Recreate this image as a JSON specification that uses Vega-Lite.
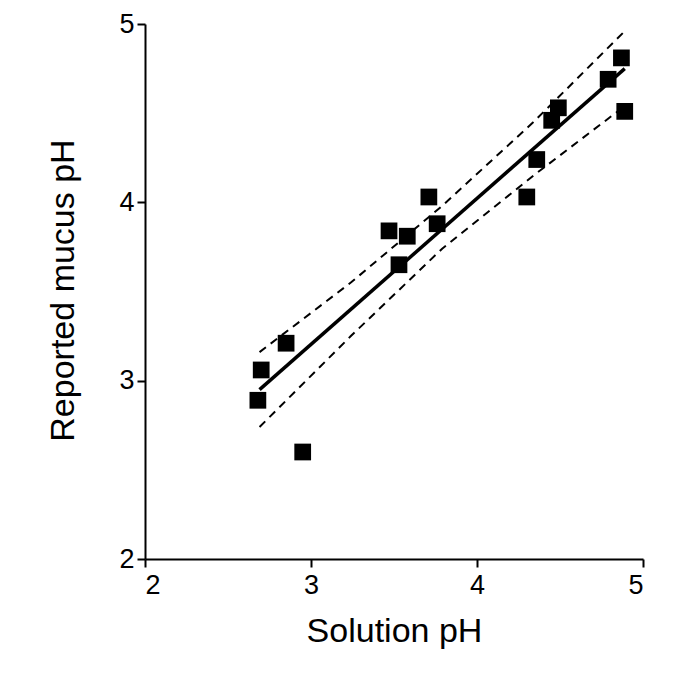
{
  "$schema": "https://vega.github.io/schema/vega-lite/v6.json",
  "autosize": "none",
  "width": 498,
  "height": 535,
  "padding": {"left": 145, "top": 24, "right": 57, "bottom": 116},
  "background": "white",
  "config": {
    "view": {"stroke": null},
    "font": "Liberation Sans",
    "axis": {
      "grid": false,
      "domainColor": "black",
      "domainWidth": 2,
      "tickColor": "black",
      "tickWidth": 2,
      "tickSize": 8,
      "labelColor": "black",
      "titleColor": "black",
      "labelFont": "Liberation Sans",
      "titleFont": "Liberation Sans",
      "labelFontSize": 27,
      "titleFontSize": 34,
      "titleFontWeight": "normal"
    }
  },
  "datasets": {
    "points": [
      {"solution": 2.70, "mucus": 3.06},
      {"solution": 2.68, "mucus": 2.89},
      {"solution": 2.85, "mucus": 3.21},
      {"solution": 2.95, "mucus": 2.60},
      {"solution": 3.47, "mucus": 3.84},
      {"solution": 3.58, "mucus": 3.81},
      {"solution": 3.53, "mucus": 3.65},
      {"solution": 3.71, "mucus": 4.03},
      {"solution": 3.76, "mucus": 3.88},
      {"solution": 4.30, "mucus": 4.03},
      {"solution": 4.36, "mucus": 4.24},
      {"solution": 4.45, "mucus": 4.46},
      {"solution": 4.49, "mucus": 4.53},
      {"solution": 4.79, "mucus": 4.69},
      {"solution": 4.87, "mucus": 4.81},
      {"solution": 4.89, "mucus": 4.51}
    ],
    "fit": [
      {"solution": 2.69, "mucus": 2.95},
      {"solution": 4.89, "mucus": 4.75}
    ],
    "bands": [
      {"band": "upper", "solution": 2.69, "mucus": 3.16},
      {"band": "upper", "solution": 3.24, "mucus": 3.55},
      {"band": "upper", "solution": 3.79, "mucus": 3.98},
      {"band": "upper", "solution": 4.34, "mucus": 4.45},
      {"band": "upper", "solution": 4.89, "mucus": 4.96},
      {"band": "lower", "solution": 2.69, "mucus": 2.74},
      {"band": "lower", "solution": 3.24, "mucus": 3.25},
      {"band": "lower", "solution": 3.79, "mucus": 3.74},
      {"band": "lower", "solution": 4.34, "mucus": 4.15},
      {"band": "lower", "solution": 4.89, "mucus": 4.54}
    ]
  },
  "encoding": {
    "x": {
      "field": "solution",
      "type": "quantitative",
      "scale": {"domain": [2, 5], "nice": false, "zero": false},
      "axis": {
        "title": "Solution pH",
        "values": [2, 3, 4, 5],
        "labelFontSize": 27,
        "labelPadding": 5,
        "titleBaseline": "middle",
        "titleY": 72
      }
    },
    "y": {
      "field": "mucus",
      "type": "quantitative",
      "scale": {"domain": [2, 5], "nice": false, "zero": false},
      "axis": {
        "title": "Reported mucus pH",
        "values": [2, 3, 4, 5],
        "labelFontSize": 27,
        "labelPadding": 3,
        "titleAngle": -90,
        "titleAlign": "center",
        "titleBaseline": "middle",
        "titleX": -82,
        "titleY": 266
      }
    }
  },
  "layer": [
    {
      "data": {"name": "bands"},
      "mark": {"type": "line", "color": "black", "strokeWidth": 2, "strokeDash": [8, 6]},
      "encoding": {"detail": {"field": "band"}}
    },
    {
      "data": {"name": "fit"},
      "mark": {"type": "line", "color": "black", "strokeWidth": 3.5},
      "encoding": {}
    },
    {
      "data": {"name": "points"},
      "mark": {"type": "point", "shape": "square", "filled": true, "color": "black", "opacity": 1, "size": 280}
    }
  ]
}
